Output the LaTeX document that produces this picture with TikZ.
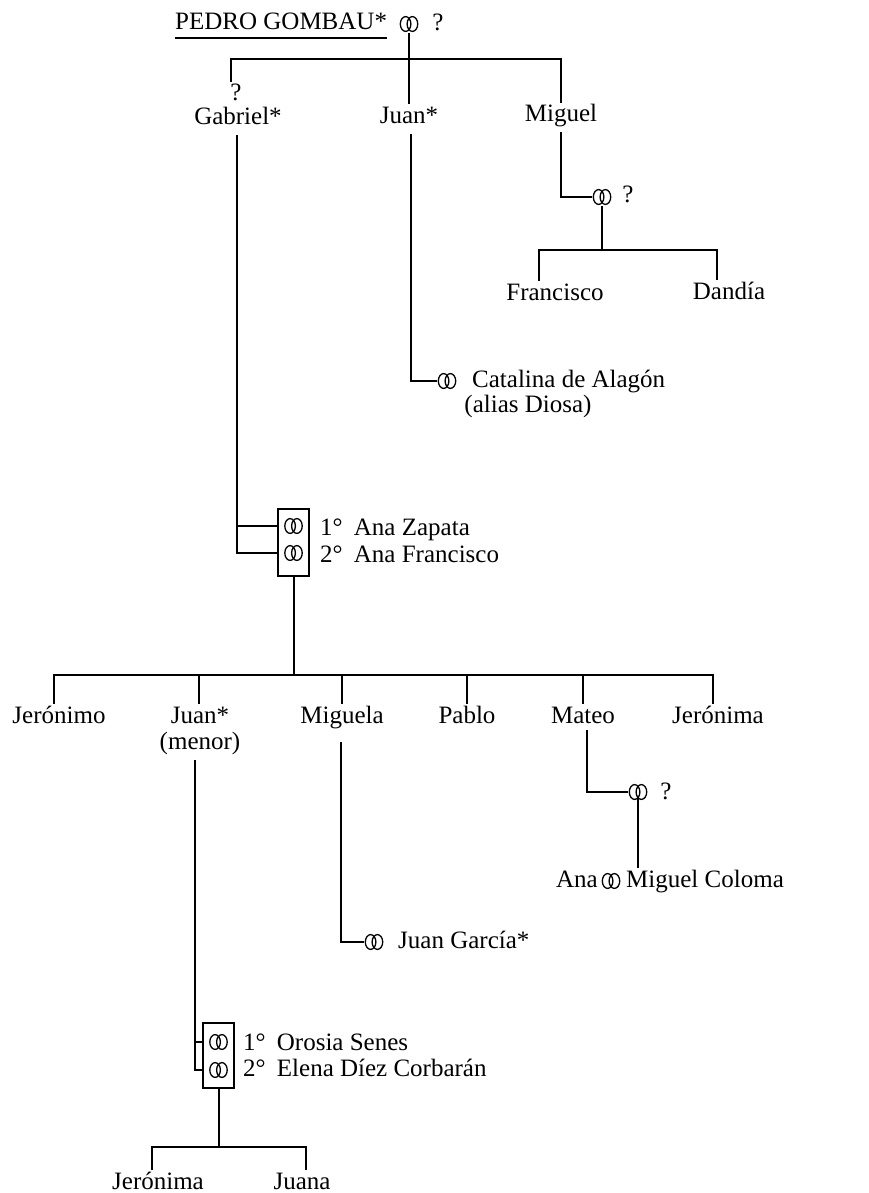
\documentclass[tikz,border=0pt]{standalone}
\usepackage{fontspec}
\setmainfont{Liberation Serif}
\begin{document}
\begin{tikzpicture}[x=1pt,y=-1pt,
  every node/.style={font=\fontsize{25}{29}\selectfont},
  lbl/.style={anchor=base, inner sep=0pt, text height=19pt, text depth=5pt},
  lblw/.style={anchor=base west, inner sep=0pt},
  lble/.style={anchor=base east, inner sep=0pt},
  ln/.style={line width=2pt},
  ring/.style={inner sep=0pt, minimum width=20pt, minimum height=18pt,
    path picture={
      \draw[line width=1.3pt] ([xshift=-3.4pt]path picture bounding box.center)
        ellipse [x radius=5.3pt, y radius=7.4pt];
      \draw[line width=1.3pt] ([xshift=3.4pt]path picture bounding box.center)
        ellipse [x radius=5.3pt, y radius=7.4pt];}},
  wbox/.style={draw, line width=1.6pt, inner sep=0pt, minimum width=31pt}]
\useasboundingbox (0,0) rectangle (869,1193);

% --- first generation
\node[lblw] (pedro) at (175,30) {PEDRO GOMBAU*};
\draw[ln] ([yshift=-8pt]pedro.base west) -- ([yshift=-8pt]pedro.base east);
\node[ring] (r0) at (409,24) {};
\node[lbl] (q0) at (438,31) {?};

\coordinate (bar1) at (0,59);
\node[lbl] (q1) at (236,101) {?};
\node[lbl] (gabriel) at (238,125) {Gabriel*};
\node[lbl] (juan1) at (409,124) {Juan*};
\node[lbl] (miguel) at (561,122) {Miguel};

\draw[ln] (r0.south) -- ([yshift=1pt]juan1.north);
\draw[ln] ([xshift=-5pt]q1.north) |- (bar1 -| miguel) -- (miguel.north);

% --- Miguel's branch
\coordinate (mgs) at ([yshift=-5pt]miguel.south);
\node[ring] (rg) at (602,197) {};
\node[lbl] (qg) at (628,203) {?};
\draw[ln] (mgs) |- (rg.west);
\coordinate (f1) at (539,250);
\coordinate (f2) at (717,250);
\node[lbl] (fra) at (555,300) {Francisco};
\node[lbl] (dan) at (729,299) {Dandía};
\draw[ln] (rg.south) -- (rg.south |- f1);
\draw[ln] (f1 |- fra.north) -- (f1) -- (f2) -- (f2 |- dan.north);

% --- Juan's marriage
\coordinate (jts) at ([xshift=2pt,yshift=-5pt]juan1.south);
\node[ring] (rc) at (447,381) {};
\node[lblw] (cat) at (472,387) {Catalina de Alagón};
\node[lbl] (alias) at (528,412) {(alias Diosa)};
\draw[ln] (jts) |- (rc.west);

% --- Gabriel's marriages
\coordinate (gs) at ([xshift=-1pt,yshift=-5pt]gabriel.south);
\node[wbox, minimum height=67pt] (box1) at (293.5,542.5) {};
\node[ring] (ra1) at (293.5,526) {};
\node[ring] (ra2) at (293.5,553) {};
\node[lblw] (za) at (320,535) {1°\hspace{0.45em}Ana Zapata};
\node[lblw] (af) at (320,562) {2°\hspace{0.45em}Ana Francisco};
\draw[ln] (gs) |- (box1.west |- ra2);
\draw[ln] (gs |- ra1) -- (box1.west |- ra1);

% --- Gabriel's children
\coordinate (bar2) at (0,675);
\draw[ln] (box1.south) -- (box1.south |- bar2);
\node[lbl] (c1) at (59,723) {Jerónimo};
\node[lbl] (c2) at (200,723) {Juan*};
\node[lbl] (menor) at (200,749) {(menor)};
\node[lbl] (c3) at (342,723) {Miguela};
\node[lbl] (c4) at (467,723) {Pablo};
\node[lbl] (c5) at (583,723) {Mateo};
\node[lbl] (c6) at (718,723) {Jerónima};
\coordinate (d1) at (54,675);
\coordinate (d6) at (713,675);
\draw[ln] (d1 |- c1.north) -- (d1) -- (d6) -- (d6 |- c6.north);
\draw[ln] ([xshift=-1pt]c2.north |- bar2) -- ([xshift=-1pt]c2.north);
\draw[ln] (c3.north |- bar2) -- (c3.north);
\draw[ln] (c4.north |- bar2) -- (c4.north);
\draw[ln] (c5.north |- bar2) -- (c5.north);

% --- Miguela's marriage
\coordinate (ms) at ([xshift=-1pt,yshift=-14pt]c3.south);
\node[ring] (rm) at (374,942) {};
\node[lblw] (jg) at (398,948) {Juan García*};
\draw[ln] (ms) |- (rm.west);

% --- Mateo's line
\coordinate (mt) at ([xshift=4pt,yshift=-2pt]c5.south);
\node[ring] (rt) at (638,792) {};
\node[lbl] (qt) at (666,799) {?};
\draw[ln] (mt) |- (rt.west);
\node[lble] (ana) at (598,887) {Ana};
\node[ring] (rn) at (611,881) {};
\node[lblw] (mc) at (626,887) {Miguel Coloma};
\draw[ln] ([yshift=-5pt]rt.center) -- (rt.center |- 0,868);

% --- Juan (menor)'s marriages
\coordinate (js) at ([xshift=-5pt,yshift=-6pt]menor.south);
\node[wbox, minimum height=65pt] (box2) at (218.5,1055.5) {};
\node[ring] (rb1) at (218.5,1042) {};
\node[ring] (rb2) at (218.5,1070) {};
\node[lblw] (os) at (243,1050) {1°\hspace{0.45em}Orosia Senes};
\node[lblw] (ed) at (243,1076) {2°\hspace{0.45em}Elena Díez Corbarán};
\draw[ln] (js) |- (box2.west |- rb2);
\draw[ln] (js |- rb1) -- (box2.west |- rb1);

% --- his daughters
\coordinate (bar3) at (0,1147);
\draw[ln] (box2.south) -- (box2.south |- bar3);
\node[lbl] (g1) at (158,1189) {Jerónima};
\node[lbl] (g2) at (302,1189) {Juana};
\coordinate (e1) at (152,1147);
\coordinate (e2) at (306,1147);
\draw[ln] (e1 |- g1.north) -- (e1) -- (e2) -- (e2 |- g2.north);
\end{tikzpicture}
\end{document}
